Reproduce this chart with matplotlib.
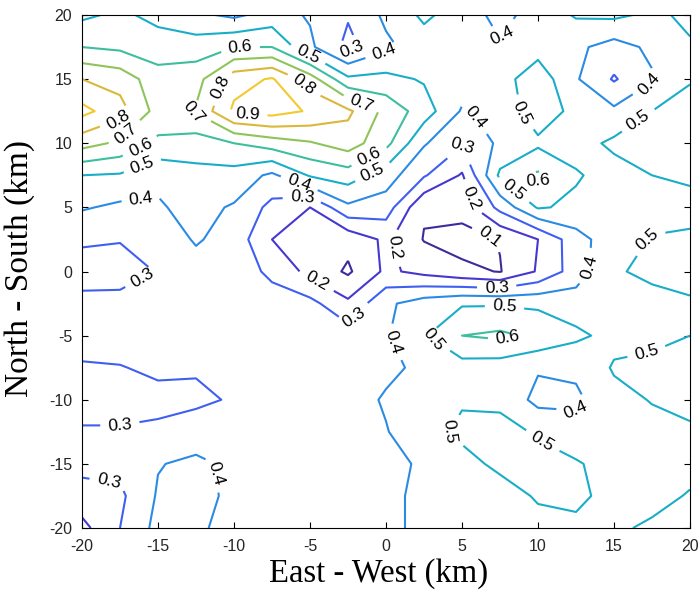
import matplotlib.pyplot as plt

plt.rcParams['axes.unicode_minus'] = False

# grid of the field (km), rows go from north (20) to south (-20)
x_km = [-20, -17.5, -15, -12.5, -10, -7.5, -5, -2.5, 0, 2.5, 5, 7.5, 10, 12.5, 15, 17.5, 20]
y_km = [20, 17.5, 15, 12.5, 10, 7.5, 5, 2.5, 0, -2.5, -5, -7.5, -10, -12.5, -15, -17.5, -20]

field = [
    [0.48, 0.52, 0.47, 0.42, 0.38, 0.44, 0.39, 0.31, 0.42, 0.52, 0.45, 0.37, 0.44, 0.51, 0.52, 0.48, 0.52],
    [0.60, 0.58, 0.55, 0.55, 0.60, 0.60, 0.42, 0.27, 0.38, 0.45, 0.43, 0.41, 0.46, 0.42, 0.36, 0.42, 0.49],
    [0.80, 0.76, 0.64, 0.66, 0.86, 0.91, 0.75, 0.52, 0.53, 0.49, 0.45, 0.46, 0.56, 0.41, 0.29, 0.39, 0.49],
    [0.93, 0.84, 0.66, 0.71, 0.92, 0.94, 0.89, 0.82, 0.67, 0.55, 0.39, 0.43, 0.56, 0.47, 0.42, 0.50, 0.55],
    [0.74, 0.68, 0.58, 0.55, 0.60, 0.65, 0.69, 0.75, 0.63, 0.41, 0.31, 0.42, 0.48, 0.46, 0.52, 0.54, 0.55],
    [0.50, 0.49, 0.42, 0.47, 0.46, 0.38, 0.51, 0.55, 0.45, 0.31, 0.19, 0.52, 0.62, 0.51, 0.46, 0.50, 0.51],
    [0.41, 0.38, 0.39, 0.43, 0.39, 0.27, 0.20, 0.38, 0.35, 0.11, 0.14, 0.33, 0.51, 0.48, 0.45, 0.47, 0.48],
    [0.31, 0.305, 0.34, 0.41, 0.36, 0.20, 0.14, 0.13, 0.22, 0.095, 0.06, 0.105, 0.20, 0.36, 0.46, 0.505, 0.51],
    [0.27, 0.26, 0.305, 0.36, 0.35, 0.28, 0.17, 0.085, 0.22, 0.17, 0.125, 0.095, 0.21, 0.35, 0.49, 0.52, 0.53],
    [0.32, 0.33, 0.34, 0.36, 0.37, 0.34, 0.33, 0.22, 0.38, 0.45, 0.49, 0.49, 0.48, 0.45, 0.46, 0.47, 0.49],
    [0.34, 0.35, 0.36, 0.37, 0.37, 0.36, 0.35, 0.35, 0.39, 0.49, 0.60, 0.62, 0.58, 0.52, 0.47, 0.48, 0.50],
    [0.29, 0.295, 0.32, 0.31, 0.34, 0.36, 0.36, 0.37, 0.38, 0.42, 0.46, 0.45, 0.41, 0.42, 0.51, 0.52, 0.53],
    [0.26, 0.26, 0.27, 0.28, 0.31, 0.34, 0.35, 0.36, 0.41, 0.45, 0.49, 0.48, 0.37, 0.38, 0.47, 0.505, 0.52],
    [0.31, 0.31, 0.32, 0.35, 0.36, 0.36, 0.37, 0.38, 0.395, 0.46, 0.52, 0.53, 0.49, 0.44, 0.46, 0.47, 0.49],
    [0.33, 0.33, 0.395, 0.42, 0.38, 0.37, 0.37, 0.38, 0.39, 0.405, 0.47, 0.52, 0.53, 0.51, 0.46, 0.47, 0.48],
    [0.26, 0.28, 0.41, 0.43, 0.38, 0.37, 0.37, 0.38, 0.39, 0.41, 0.44, 0.46, 0.51, 0.52, 0.47, 0.48, 0.505],
    [0.17, 0.30, 0.43, 0.41, 0.38, 0.37, 0.37, 0.38, 0.39, 0.41, 0.43, 0.45, 0.47, 0.48, 0.49, 0.51, 0.53],
]

levels = [0.1, 0.2, 0.3, 0.4, 0.5, 0.6, 0.7, 0.8, 0.9]
level_colors = ['#3b2c9c', '#4638cf', '#3f5ff0', '#2b8be3', '#19adc8',
                '#3dbe9e', '#8fc45a', '#d9b83b', '#f2c92e']

# where the contour labels sit, per level (km)
label_spots = {
    0.1: [(6.5, 1.9)],
    0.2: [(-4.3, -0.2), (1.6, 2.2), (4.5, 5.3)],
    0.3: [(-1.9, 16.3), (-5.5, 5.8), (-16.0, -0.5), (-1.9, -3.8), (7.3, -0.9),
          (5.5, 10.0), (-17.5, -12.3), (-18.2, -16.2)],
    0.4: [(0.1, 16.3), (-16.2, 6.5), (-5.7, 6.9), (7.3, 13.1), (8.2, 18.0),
          (13.6, 0.3), (17.4, 14.5), (0.5, -5.5), (13.1, -11.4), (-11.8, -15.8)],
    0.5: [(-5.3, 16.5), (-16.2, 8.8), (-0.7, 7.3), (9.5, 12.8), (7.7, 5.3),
          (16.7, 3.0), (16.7, 11.6), (7.8, -2.7), (3.1, -5.4), (17.2, -6.6),
          (10.3, -13.2), (3.75, -13.0)],
    0.6: [(-9.6, 17.5), (-16.4, 10.4), (-1.0, 8.7), (9.7, 5.8), (8.0, -5.2)],
    0.7: [(-1.5, 13.4), (-12.7, 12.3), (-17.5, 11.2)],
    0.8: [(-11.2, 14.5), (-5.5, 14.4), (-17.6, 11.8)],
    0.9: [(-9.1, 12.2)],
}

fig = plt.figure(figsize=(7, 5.9), dpi=100)
ax = fig.add_axes([82 / 700, 1 - 528 / 590, 608 / 700, 513 / 590])
ax.set_xlim(-20, 20)
ax.set_ylim(-20, 20)

# one contour set per level so each label lands on its own line
for lv, col in zip(levels, level_colors):
    cs = ax.contour(x_km, y_km, field, levels=[lv], colors=[col], linewidths=1.5)
    ax.clabel(cs, manual=label_spots[lv], inline=True, inline_spacing=6,
              fontsize=12.5, fmt='%.1f', colors='black')
    for t in cs.labelTexts:
        t.set_fontfamily('Liberation Sans')

ax.set_xlim(-20, 20)
ax.set_ylim(-20, 20)
ax.set_xticks(range(-20, 21, 5))
ax.set_yticks(range(-20, 21, 5))
ax.tick_params(direction='in', top=True, right=True, length=4.5, width=0.8,
               labelsize=11.5, labelcolor='#262626')
ax.tick_params(axis='x', pad=8)
ax.tick_params(axis='y', pad=7)
for lab in ax.get_xticklabels() + ax.get_yticklabels():
    lab.set_fontfamily('Liberation Sans')
for sp in ax.spines.values():
    sp.set_linewidth(0.8)

ax.set_xlabel('East - West (km)', fontfamily='Liberation Serif', fontsize=23.5)
ax.set_ylabel('North - South (km)', fontfamily='Liberation Serif', fontsize=24)
ax.xaxis.set_label_coords(0.487, -0.058)
ax.yaxis.set_label_coords(-0.078, 0.505)

fig.savefig('out.png', dpi=100)
